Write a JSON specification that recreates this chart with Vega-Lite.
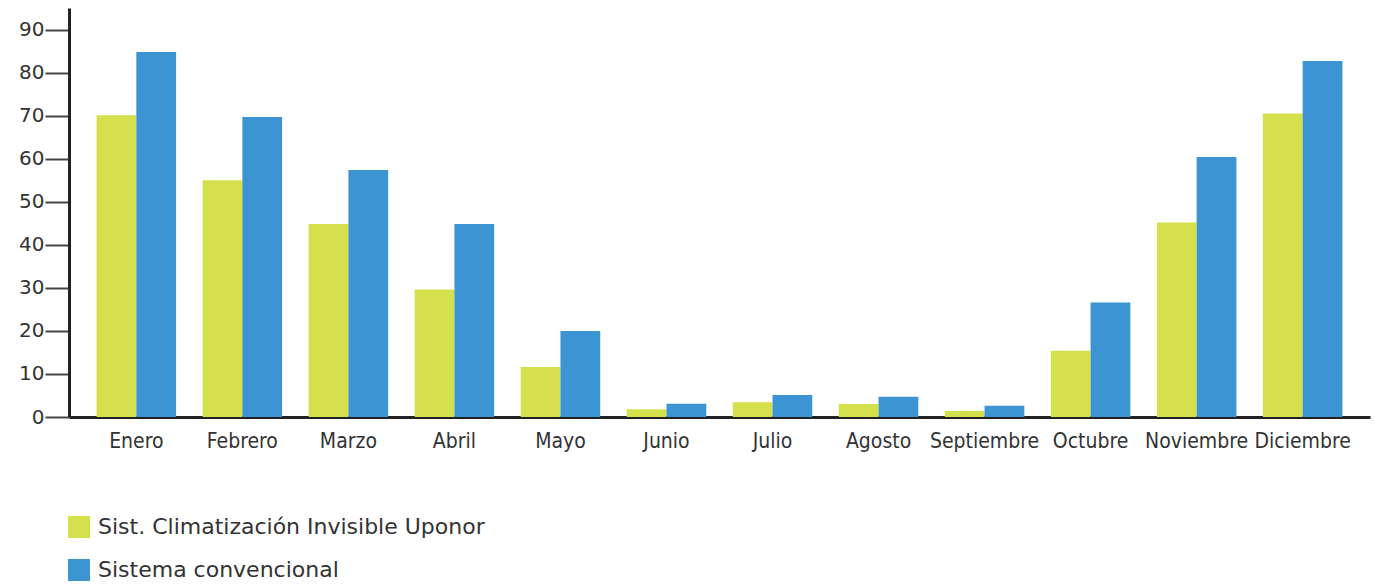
{
  "$schema": "https://vega.github.io/schema/vega-lite/v6.json",
  "autosize": {"type": "none"},
  "width": 1301,
  "height": 409,
  "padding": {"left": 69, "top": 8, "right": 5, "bottom": 168},
  "background": "white",
  "config": {"view": {"stroke": null}},
  "data": {
    "values": [
      {"mes": "Enero", "serie": "Sist. Climatización Invisible Uponor", "valor": 70.1},
      {"mes": "Enero", "serie": "Sistema convencional", "valor": 84.8},
      {"mes": "Febrero", "serie": "Sist. Climatización Invisible Uponor", "valor": 55.0},
      {"mes": "Febrero", "serie": "Sistema convencional", "valor": 69.7},
      {"mes": "Marzo", "serie": "Sist. Climatización Invisible Uponor", "valor": 44.8},
      {"mes": "Marzo", "serie": "Sistema convencional", "valor": 57.4},
      {"mes": "Abril", "serie": "Sist. Climatización Invisible Uponor", "valor": 29.6},
      {"mes": "Abril", "serie": "Sistema convencional", "valor": 44.8},
      {"mes": "Mayo", "serie": "Sist. Climatización Invisible Uponor", "valor": 11.6},
      {"mes": "Mayo", "serie": "Sistema convencional", "valor": 20.0},
      {"mes": "Junio", "serie": "Sist. Climatización Invisible Uponor", "valor": 1.8},
      {"mes": "Junio", "serie": "Sistema convencional", "valor": 3.1},
      {"mes": "Julio", "serie": "Sist. Climatización Invisible Uponor", "valor": 3.4},
      {"mes": "Julio", "serie": "Sistema convencional", "valor": 5.1},
      {"mes": "Agosto", "serie": "Sist. Climatización Invisible Uponor", "valor": 3.0},
      {"mes": "Agosto", "serie": "Sistema convencional", "valor": 4.7},
      {"mes": "Septiembre", "serie": "Sist. Climatización Invisible Uponor", "valor": 1.4},
      {"mes": "Septiembre", "serie": "Sistema convencional", "valor": 2.6},
      {"mes": "Octubre", "serie": "Sist. Climatización Invisible Uponor", "valor": 15.4},
      {"mes": "Octubre", "serie": "Sistema convencional", "valor": 26.6},
      {"mes": "Noviembre", "serie": "Sist. Climatización Invisible Uponor", "valor": 45.2},
      {"mes": "Noviembre", "serie": "Sistema convencional", "valor": 60.4},
      {"mes": "Diciembre", "serie": "Sist. Climatización Invisible Uponor", "valor": 70.5},
      {"mes": "Diciembre", "serie": "Sistema convencional", "valor": 82.7}
    ]
  },
  "mark": {"type": "bar"},
  "encoding": {
    "x": {
      "field": "mes",
      "type": "nominal",
      "sort": null,
      "scale": {"paddingInner": 0.25, "paddingOuter": 0.26},
      "axis": {
        "title": null,
        "labelAngle": 0,
        "ticks": false,
        "domainColor": "#222222",
        "domainWidth": 3,
        "labelFont": "DejaVu Sans Condensed",
        "labelFontSize": 21,
        "labelColor": "#333333",
        "labelPadding": 13,
        "grid": false
      }
    },
    "xOffset": {"field": "serie", "type": "nominal", "sort": null},
    "y": {
      "field": "valor",
      "type": "quantitative",
      "scale": {"domain": [0, 95], "nice": false},
      "axis": {
        "title": null,
        "values": [0, 10, 20, 30, 40, 50, 60, 70, 80, 90],
        "grid": false,
        "domainColor": "#222222",
        "domainWidth": 3,
        "tickColor": "#444444",
        "tickWidth": 2,
        "tickSize": 24,
        "labelPadding": 1,
        "labelFont": "DejaVu Sans",
        "labelFontSize": 20,
        "labelColor": "#333333"
      }
    },
    "color": {
      "field": "serie",
      "type": "nominal",
      "sort": null,
      "scale": {"range": ["#d4e04c", "#3c94d2"]},
      "legend": {
        "title": null,
        "orient": "none",
        "legendX": -1,
        "legendY": 508,
        "padding": 0,
        "symbolType": "square",
        "symbolSize": 484,
        "symbolStrokeWidth": 0,
        "symbolOpacity": 1,
        "labelFont": "DejaVu Sans",
        "labelFontSize": 22,
        "labelColor": "#333333",
        "labelOffset": 8,
        "rowPadding": 21,
        "labelLimit": 600
      }
    }
  }
}
